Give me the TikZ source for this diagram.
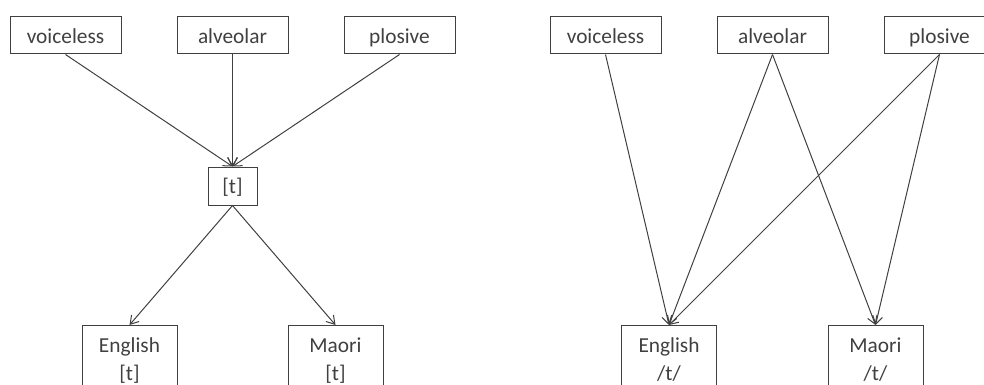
\documentclass[tikz,border=0pt]{standalone}
\usepackage{fontspec}
\setmainfont{Carlito}
\usetikzlibrary{arrows.meta}

\definecolor{ink}{RGB}{64,64,64}

\tikzset{
  feat/.style={draw=ink, text=ink, line width=0.75pt, inner sep=0pt,
    minimum width=83.25pt, minimum height=27.75pt,
    text height=14pt, text depth=2.3pt},
  seg/.style={feat, minimum width=36.75pt, minimum height=28.5pt},
  lang/.style={draw=ink, text=ink, line width=0.75pt, inner sep=0pt,
    anchor=north, align=center, minimum width=71.25pt,
    text height=41.25pt, text depth=40pt},
  link/.style={draw=ink, line width=0.75pt,
    -{Straight Barb[length=6pt,width=7.5pt]}}
}

\begin{document}
\begin{tikzpicture}[x=0.75pt, y=-0.75pt, font=\fontsize{16}{21}\selectfont]
\clip (0,0) rectangle (984,385);

% left one
\node[feat] (vl) at (65.5,35.5) {voiceless};
\node[feat] (al) at (232.5,35.5) {alveolar};
\node[feat] (pl) at (399.5,35.5) {plosive};

\node[seg] (t) at (232.5,186) {[t]};

\node[lang] (engl) at (129.5,325) {English\\{[t]}};
\node[lang] (maol) at (335.5,325) {Maori\\{[t]}};

\draw[link] (vl.south) -- (t.north);
\draw[link] (al.south) -- (t.north);
\draw[link] (pl.south) -- (t.north);
\draw[link] (t.south) -- (engl.north);
\draw[link] (t.south) -- (maol.north);

% right one
\node[feat] (vr) at (605.5,35.5) {voiceless};
\node[feat] (ar) at (772.5,35.5) {alveolar};
\node[feat] (pr) at (939.5,35.5) {plosive};

\node[lang] (engr) at (669,325) {English\\/t/};
\node[lang] (maor) at (875.5,325) {Maori\\/t/};

\draw[link] (vr.south) -- (engr.north);
\draw[link] (ar.south) -- (engr.north);
\draw[link] (ar.south) -- (maor.north);
\draw[link] (pr.south) -- (engr.north);
\draw[link] (pr.south) -- (maor.north);

\end{tikzpicture}
\end{document}
